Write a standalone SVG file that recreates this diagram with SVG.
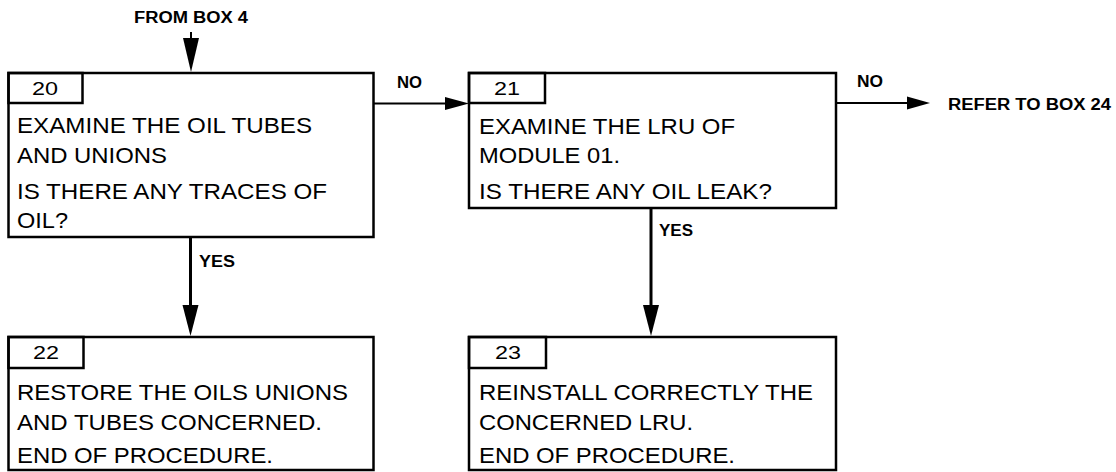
<svg xmlns="http://www.w3.org/2000/svg" width="1116" height="472" viewBox="0 0 1116 472">
  <style>
    .box { fill: #fff; stroke: #000; stroke-width: 2.5; }
    .tab { fill: none; stroke: #000; stroke-width: 2.5; }
    .body { font-family: "Liberation Sans", Arial, sans-serif; font-size: 21.5px; fill: #000; }
    .num { font-family: "Liberation Sans", Arial, sans-serif; font-size: 19px; fill: #000; text-anchor: middle; }
    .lbl { font-family: "Liberation Sans", Arial, sans-serif; font-size: 16px; font-weight: bold; fill: #000; }
    .wire { stroke: #000; fill: none; }
    .head { fill: #000; stroke: none; }
  </style>
  <rect width="1116" height="472" fill="#fff"/>

  <!-- connectors -->
  <g id="connectors">
    <!-- entry from box 4 -->
    <line class="wire" x1="191" y1="32" x2="191" y2="60" stroke-width="2"/>
    <polygon class="head" points="183,38 199,38 191,72"/>
    <text class="lbl" x="134" y="23" textLength="114" lengthAdjust="spacingAndGlyphs">FROM BOX 4</text>

    <!-- 20 NO -> 21 -->
    <line class="wire" x1="373" y1="103.5" x2="450" y2="103.5" stroke-width="2"/>
    <polygon class="head" points="445,97 445,110 469,103.5"/>
    <text class="lbl" x="397" y="88" textLength="25" lengthAdjust="spacingAndGlyphs">NO</text>

    <!-- 21 NO -> box 24 -->
    <line class="wire" x1="836" y1="103" x2="912" y2="103" stroke-width="2"/>
    <polygon class="head" points="907,96.5 907,109.5 930,103"/>
    <text class="lbl" x="857" y="87" textLength="26" lengthAdjust="spacingAndGlyphs">NO</text>
    <text class="lbl" x="948" y="110" textLength="163" lengthAdjust="spacingAndGlyphs">REFER TO BOX 24</text>

    <!-- 20 YES -> 22 -->
    <line class="wire" x1="190.5" y1="237" x2="190.5" y2="310" stroke-width="3"/>
    <polygon class="head" points="182.5,305 198.5,305 190.5,336"/>
    <text class="lbl" x="199" y="267" textLength="36" lengthAdjust="spacingAndGlyphs">YES</text>

    <!-- 21 YES -> 23 -->
    <line class="wire" x1="651" y1="208" x2="651" y2="310" stroke-width="3"/>
    <polygon class="head" points="643,305 659,305 651,336"/>
    <text class="lbl" x="659" y="236" textLength="34" lengthAdjust="spacingAndGlyphs">YES</text>
  </g>

  <!-- box 20 -->
  <g id="box20">
    <rect class="box" x="8.5" y="73" width="365" height="164"/>
    <rect class="tab" x="8.5" y="73" width="74" height="30"/>
    <text class="num" x="45" y="95" textLength="26" lengthAdjust="spacingAndGlyphs">20</text>
    <text class="body" x="17" y="133" textLength="295" lengthAdjust="spacingAndGlyphs">EXAMINE THE OIL TUBES</text>
    <text class="body" x="17" y="163" textLength="150" lengthAdjust="spacingAndGlyphs">AND UNIONS</text>
    <text class="body" x="17" y="199" textLength="310" lengthAdjust="spacingAndGlyphs">IS THERE ANY TRACES OF</text>
    <text class="body" x="17" y="228" textLength="51" lengthAdjust="spacingAndGlyphs">OIL?</text>
  </g>

  <!-- box 21 -->
  <g id="box21">
    <rect class="box" x="469" y="73" width="367" height="135"/>
    <rect class="tab" x="469" y="73" width="76" height="30"/>
    <text class="num" x="507" y="95" textLength="26" lengthAdjust="spacingAndGlyphs">21</text>
    <text class="body" x="479" y="134" textLength="256" lengthAdjust="spacingAndGlyphs">EXAMINE THE LRU OF</text>
    <text class="body" x="479" y="163" textLength="141" lengthAdjust="spacingAndGlyphs">MODULE 01.</text>
    <text class="body" x="479" y="199" textLength="293" lengthAdjust="spacingAndGlyphs">IS THERE ANY OIL LEAK?</text>
  </g>

  <!-- box 22 -->
  <g id="box22">
    <rect class="box" x="8.5" y="337" width="365" height="133"/>
    <rect class="tab" x="8.5" y="337" width="75" height="31"/>
    <text class="num" x="46" y="359" textLength="26" lengthAdjust="spacingAndGlyphs">22</text>
    <text class="body" x="17" y="400" textLength="331" lengthAdjust="spacingAndGlyphs">RESTORE THE OILS UNIONS</text>
    <text class="body" x="17" y="430" textLength="305" lengthAdjust="spacingAndGlyphs">AND TUBES CONCERNED.</text>
    <text class="body" x="17" y="463" textLength="256" lengthAdjust="spacingAndGlyphs">END OF PROCEDURE.</text>
  </g>

  <!-- box 23 -->
  <g id="box23">
    <rect class="box" x="469" y="337" width="367" height="133"/>
    <rect class="tab" x="469" y="337" width="77" height="31"/>
    <text class="num" x="508" y="359" textLength="26" lengthAdjust="spacingAndGlyphs">23</text>
    <text class="body" x="479" y="400" textLength="334" lengthAdjust="spacingAndGlyphs">REINSTALL CORRECTLY THE</text>
    <text class="body" x="479" y="430" textLength="214" lengthAdjust="spacingAndGlyphs">CONCERNED LRU.</text>
    <text class="body" x="479" y="463" textLength="256" lengthAdjust="spacingAndGlyphs">END OF PROCEDURE.</text>
  </g>
</svg>
